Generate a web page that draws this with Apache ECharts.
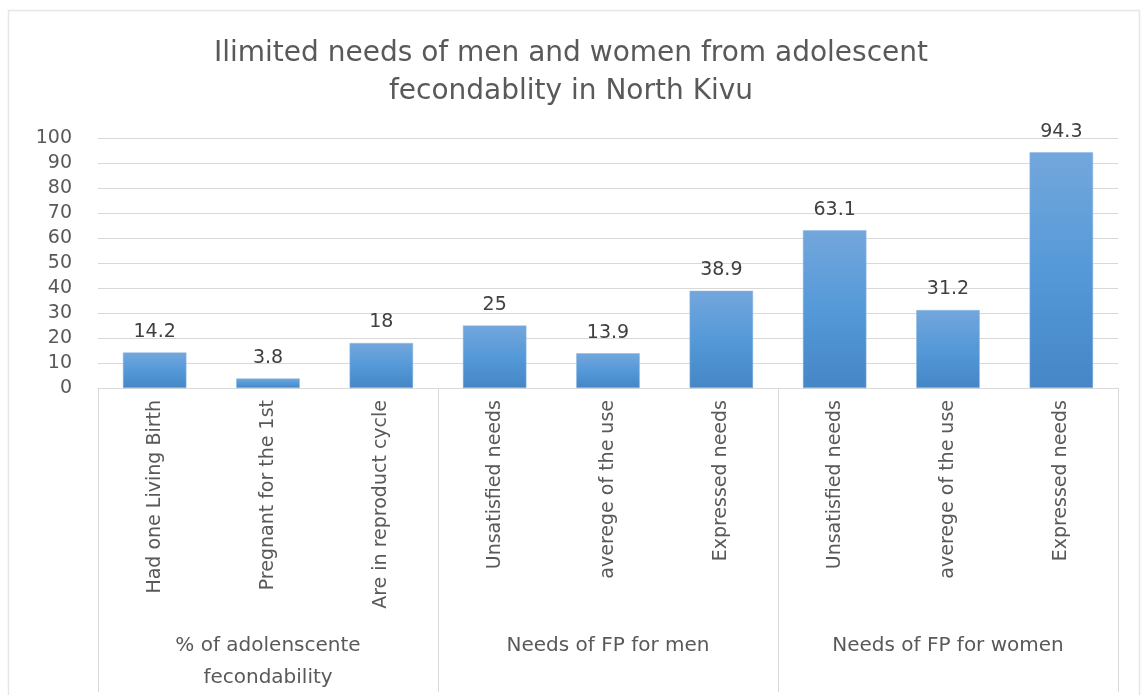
<!DOCTYPE html>
<html>
<head>
<meta charset="utf-8">
<script src="https://cdn.jsdelivr.net/npm/echarts@6/dist/echarts.min.js"></script>
<style>
  html, body { margin: 0; padding: 0; background: #fff; }
  #chart { width: 1142px; height: 695px; }
</style>
</head>
<body>
<div id="chart"></div>
<script>
// Indicators, their groups and percentages
const categories = [
  'Had one Living Birth', 'Pregnant for the 1st', 'Are in reproduct cycle',
  'Unsatisfied needs', 'averege of the use', 'Expressed needs',
  'Unsatisfied needs', 'averege of the use', 'Expressed needs'
];
const groups = ['% of adolenscente\nfecondability', 'Needs of FP for men', 'Needs of FP for women'];
const values = [14.2, 3.8, 18, 25, 13.9, 38.9, 63.1, 31.2, 94.3];
const titleText = 'Ilimited needs of men and women from adolescent\nfecondablity in North Kivu';

const FONT = 'DejaVu Sans';
const TEXT = '#595959';
const LINE = '#d9d9d9';

const chart = echarts.init(document.getElementById('chart'), null, { renderer: 'canvas' });
chart.setOption({
  backgroundColor: '#fff',
  animation: false,
  textStyle: { fontFamily: FONT },
  title: {
    text: titleText,
    left: 'center',
    top: 30,
    textStyle: { fontFamily: FONT, fontSize: 28, fontWeight: 'normal', color: TEXT, lineHeight: 38 }
  },
  graphic: [{
    type: 'rect',
    shape: { x: 8.5, y: 10.5, width: 1131, height: 690 },
    style: { fill: 'none', stroke: '#e3e6ea', lineWidth: 1.5 },
    silent: true
  }],
  grid: { left: 98, right: 24, top: 138, bottom: 307, outerBoundsMode: 'none', containLabel: false },
  xAxis: [{
    type: 'category',
    data: categories,
    position: 'bottom',
    axisLine: { show: true, lineStyle: { color: LINE, width: 1 } },
    axisTick: { show: false },
    axisLabel: {
      interval: 0, rotate: 90, margin: 12,
      fontFamily: FONT, fontSize: 19, color: TEXT
    }
  }, {
    type: 'category',
    data: groups,
    position: 'bottom',
    axisLine: { show: false },
    axisTick: { show: true, interval: 0, length: 304, lineStyle: { color: LINE, width: 1 } },
    axisLabel: {
      interval: 0, margin: 242,
      fontFamily: FONT, fontSize: 20, color: TEXT, lineHeight: 32
    }
  }],
  yAxis: {
    type: 'value',
    min: 0, max: 100, interval: 10,
    axisLine: { show: false },
    axisTick: { show: false },
    splitLine: { lineStyle: { color: LINE, width: 1 } },
    axisLabel: { fontFamily: FONT, fontSize: 19, color: TEXT, margin: 26 }
  },
  series: [{
    type: 'bar',
    xAxisIndex: 0,
    data: values,
    barWidth: '56%',
    itemStyle: {
      color: new echarts.graphic.LinearGradient(0, 0, 0, 1, [
        { offset: 0, color: '#73a7dc' },
        { offset: 0.5, color: '#5599d8' },
        { offset: 1, color: '#4586c6' }
      ]),
      borderColor: '#8db8e2',
      borderWidth: 0.5
    },
    label: {
      show: true, position: 'top', distance: 11,
      fontFamily: FONT, fontSize: 19, color: '#404040'
    }
  }]
});
</script>
</body>
</html>
